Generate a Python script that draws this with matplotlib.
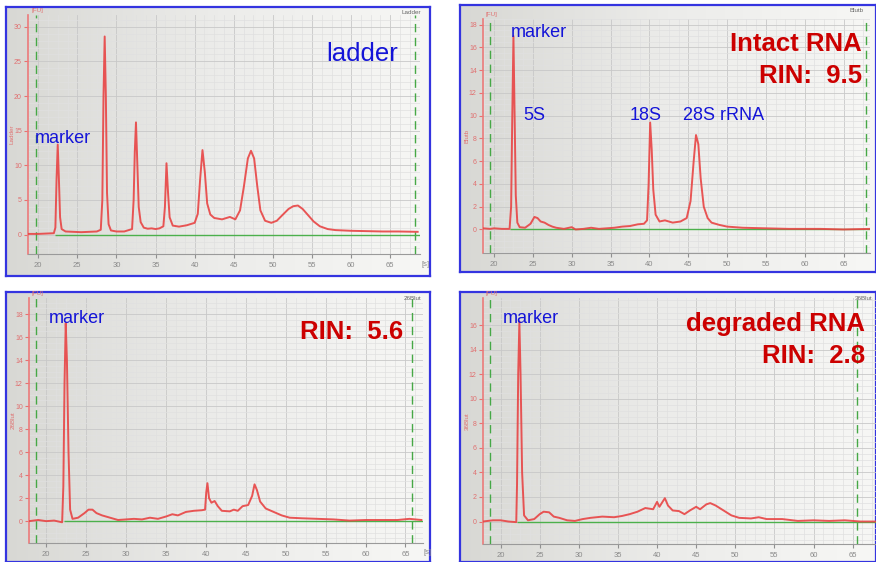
import matplotlib
matplotlib.use("Agg")
import matplotlib.pyplot as plt
import numpy as np
from matplotlib.ticker import MultipleLocator, AutoMinorLocator
from matplotlib.colors import LinearSegmentedColormap

plt.rcParams['font.family'] = ['Liberation Sans', 'DejaVu Sans']

W, H = 876, 562

# ---- traces (time [s], fluorescence [FU]) ----
ladder_t = [18.7, 20, 21, 22.0, 22.2, 22.35, 22.5, 22.65, 22.8, 23.0, 23.5, 24.5, 25.5, 26.5,
            27.5, 28.0, 28.2, 28.35, 28.5, 28.65, 28.8, 29.0, 29.3, 30, 31, 32.0, 32.2, 32.35,
            32.5, 32.65, 32.85, 33.1, 33.5, 34.0, 34.5, 35.0, 35.5, 36.0, 36.2, 36.4, 36.6, 36.8,
            37.2, 38, 39, 40.0, 40.4, 40.7, 41.0, 41.3, 41.6, 42.0, 42.5, 43.5, 44.5, 45.2, 45.8,
            46.3, 46.8, 47.2, 47.6, 48.0, 48.4, 49.0, 49.8, 50.5, 51.2, 52.0, 52.6, 53.2, 53.8,
            54.5, 55.2, 56.0, 57.0, 58.0, 60.0, 62.0, 64.0, 66.0, 68.5]
ladder_fu = [0.1, 0.1, 0.15, 0.2, 1.0, 8, 13.0, 8, 2.5, 0.8, 0.45, 0.4, 0.35, 0.4,
             0.45, 0.7, 5, 20, 28.6, 20, 6, 1.5, 0.6, 0.45, 0.45, 0.8, 5, 12,
             16.2, 11, 4, 1.8, 1.0, 0.85, 0.9, 0.8, 0.9, 1.2, 4, 10.3, 6, 2.5,
             1.3, 1.15, 1.35, 1.7, 3, 8, 12.2, 9, 4.5, 2.9, 2.4, 2.2, 2.55, 2.2, 3.5,
             7, 11, 12.1, 11, 7, 3.5, 2.0, 1.7, 2.0, 2.8, 3.7, 4.1, 4.2, 3.7,
             2.8, 1.9, 1.2, 0.8, 0.65, 0.55, 0.5, 0.45, 0.45, 0.4]

intact_t = [18.6, 19.5, 20, 21, 22.0, 22.2, 22.35, 22.5, 22.65, 22.8, 23.0, 23.3, 24.0, 24.7,
            25.2, 25.6, 26.0, 26.5, 27.0, 27.5, 28.0, 29.0, 30.0, 30.5, 31.5, 32.5, 33.5, 34.5,
            35.5, 36.5, 37.5, 38.5, 39.3, 39.7, 39.9, 40.1, 40.3, 40.5, 40.8, 41.3, 42.0, 43.0,
            44.0, 44.8, 45.3, 45.7, 46.0, 46.3, 46.6, 47.0, 47.5, 48.0, 49.0, 50.0, 52.0, 55.0,
            58.0, 62.0, 65.0, 68.4]
intact_fu = [0.1, 0.05, 0.1, 0.05, 0.05, 2, 10, 17.0, 10, 3, 0.6, 0.2, 0.15, 0.5,
             1.1, 1.0, 0.7, 0.6, 0.4, 0.25, 0.15, 0.05, 0.2, 0.0, 0.05, 0.15, 0.05, 0.1,
             0.15, 0.25, 0.3, 0.45, 0.5, 0.8, 4, 9.4, 7, 3.5, 1.3, 0.7, 0.8, 0.6,
             0.7, 1.0, 2.5, 6, 8.3, 7.5, 4.5, 2.0, 1.0, 0.6, 0.4, 0.25, 0.15, 0.1,
             0.05, 0.05, 0.0, 0.05]

rin56_t = [17.85, 19, 20, 21, 22.0, 22.15, 22.3, 22.45, 22.6, 22.8, 23.0, 23.3, 24.0, 24.8,
           25.3, 25.8, 26.3, 27.0, 27.5, 28.0, 29.0, 30.0, 31.0, 32.0, 33.0, 34.0, 35.0, 35.8,
           36.5, 37.5, 38.5, 39.5, 39.9, 40.05, 40.2, 40.4, 40.7, 41.1, 41.5, 42.0, 43.0, 43.5,
           44.0, 44.6, 45.3, 45.8, 46.1, 46.4, 46.8, 47.5, 48.5, 49.5, 50.5, 52.0, 54.0, 56.0,
           58.0, 60.0, 62.0, 64.0, 65.5, 67.0]
rin56_fu = [0.0, 0.1, 0.0, 0.05, -0.1, 3, 12, 17.2, 14, 6, 1.0, 0.2, 0.3, 0.7,
            1.0, 1.0, 0.7, 0.5, 0.4, 0.3, 0.1, 0.15, 0.2, 0.15, 0.3, 0.2, 0.4, 0.6,
            0.5, 0.8, 0.9, 0.95, 1.0, 2.5, 3.3, 2.0, 1.6, 1.75, 1.3, 0.9, 0.85, 1.0,
            0.9, 1.3, 1.4, 2.2, 3.2, 2.7, 1.7, 1.1, 0.8, 0.5, 0.3, 0.25, 0.2, 0.15,
            0.05, 0.1, 0.1, 0.1, 0.2, 0.1]

rin28_t = [17.75, 19.0, 20.0, 21.0, 22.0, 22.1, 22.25, 22.4, 22.55, 22.75, 23.0, 23.5, 24.3, 25.0,
           25.5, 26.2, 26.8, 27.5, 28.5, 29.5, 30.5, 31.5, 33.0, 34.5, 35.5, 36.5, 37.5, 38.5,
           39.5, 40.0, 40.3, 40.6, 41.0, 41.4, 42.0, 42.8, 43.5, 44.2, 45.0, 45.5, 46.3, 46.8,
           47.5, 48.5, 49.5, 50.5, 52.0, 53.0, 54.0, 56.0, 58.0, 60.0, 62.0, 64.0, 66.0, 68.0]
rin28_fu = [0.0, 0.1, 0.1, 0.0, -0.05, 3, 12, 16.3, 12, 4, 0.5, 0.1, 0.2, 0.6,
            0.8, 0.75, 0.4, 0.3, 0.1, 0.05, 0.2, 0.3, 0.4, 0.35, 0.45, 0.6, 0.8, 1.1,
            1.0, 1.6, 1.2, 1.5, 1.9, 1.3, 0.9, 0.85, 0.6, 0.9, 1.2, 1.0, 1.4, 1.5,
            1.3, 0.9, 0.5, 0.3, 0.25, 0.35, 0.2, 0.2, 0.05, 0.1, 0.05, 0.1, 0.0, 0.0]

x_ticks = [20, 25, 30, 35, 40, 45, 50, 55, 60, 65]

RED = '#e84444'
BLUE = '#1414d8'
DARKRED = '#cc0000'


def fig_rect(l, t, r, b):
    return [l / W, (H - b) / H, (r - l) / W, (b - t) / H]


def ftext(x, y, s, **kw):
    fig.text(x / W, 1 - y / H, s, **kw)


fig = plt.figure(figsize=(W / 100, H / 100), dpi=100, facecolor='white')

grad = np.linspace(0, 1, 256).reshape(1, -1)
bg_cmap = LinearSegmentedColormap.from_list('bg', ['#d8d8d4', '#ececea', '#f7f7f5'])


def panel(frame, axbox, t, fu, xlim, ylim, ymaj, yminor, ymax_tick, vlines, base_start,
          corner, ylab, show_s):
    # frame with gradient background
    bg = fig.add_axes(fig_rect(*frame))
    bg.imshow(grad, aspect='auto', cmap=bg_cmap, extent=[0, 1, 0, 1])
    bg.set_xticks([])
    bg.set_yticks([])
    for sp in bg.spines.values():
        sp.set_color('#3434e0')
        sp.set_linewidth(1.6)

    ax = fig.add_axes(fig_rect(*axbox))
    ax.set_facecolor('none')
    ax.set_xlim(*xlim)
    ax.set_ylim(*ylim)
    ax.set_xticks(x_ticks)
    ax.xaxis.set_minor_locator(AutoMinorLocator(4))
    ax.set_yticks(np.arange(0, ymax_tick + 0.1, ymaj))
    ax.yaxis.set_minor_locator(MultipleLocator(yminor))
    ax.grid(which='major', color='#c8c8c8', lw=0.6)
    ax.grid(which='minor', color='#e0e0e0', lw=0.5)
    ax.set_axisbelow(True)
    ax.tick_params(axis='y', which='major', length=3, color='#e87070', labelsize=5,
                   labelcolor='#e07070', pad=1.5)
    ax.tick_params(axis='x', which='major', length=3, color='#909090', labelsize=5.5,
                   labelcolor='#8a8a8a', pad=3)
    ax.tick_params(which='minor', length=0)
    for s in ('top', 'right'):
        ax.spines[s].set_visible(False)
    ax.spines['left'].set_color('#ec7a7a')
    ax.spines['left'].set_linewidth(1.2)
    ax.spines['bottom'].set_color('#9a9a9a')

    for v in vlines:
        ax.axvline(v, color='#46a846', ls=(0, (6, 4)), lw=1.0, zorder=3)
    ax.hlines(0, base_start, xlim[1], color='#4cb04c', lw=1.0, zorder=3)
    ax.plot(t, fu, color=RED, lw=1.4, alpha=0.9, zorder=4)

    # small decorations
    l, tp, r, b = axbox
    ftext(l + 3, tp - 2, '[FU]', fontsize=4.5, color='#e07070', va='bottom')
    ftext(l - 16, (tp + b) / 2, ylab, fontsize=4.5, color='#e07070', rotation=90,
          va='center', ha='center')
    ftext(corner[0], corner[1], ylab, fontsize=4.5, color='#666666', ha='right', va='center')
    if show_s:
        ftext(r + 1, b + 10, '[s]', fontsize=5.5, color='#8a8a8a', va='center')
    return ax


panel((6, 7, 430, 276), (28, 15, 420, 254), ladder_t, ladder_fu,
      (18.7, 68.8), (-2.8, 31.7), 5, 1, 30, [19.7, 68.2], 22.2, (421, 12), 'Ladder', True)
panel((460, 5, 876, 272), (483, 19, 870, 253), intact_t, intact_fu,
      (18.58, 68.4), (-2.07, 18.5), 2, 0.5, 18, [19.5, 67.9], 22.1, (864, 10), 'Blutb', False)
panel((6, 292, 430, 562), (29, 298, 423, 543), rin56_t, rin56_fu,
      (17.85, 67.2), (-1.9, 19.4), 2, 0.5, 18, [18.7, 65.8], 22.2, (421, 298), '26Blut', True)
panel((460, 292, 876, 562), (483, 298, 880, 544), rin28_t, rin28_fu,
      (17.75, 68.5), (-1.83, 18.2), 2, 0.5, 16, [18.7, 65.6], 22.1, (872, 298), '36Blut', False)

# annotations
ftext(326, 61, 'ladder', fontsize=18.5, color=BLUE, va='baseline')
ftext(35, 143, 'marker', fontsize=13, color=BLUE, va='baseline')

ftext(511, 37, 'marker', fontsize=13, color=BLUE, va='baseline')
ftext(523, 120, '5S', fontsize=13, color=BLUE, va='baseline')
ftext(630, 120, '18S', fontsize=13, color=BLUE, va='baseline')
ftext(683, 120, '28S rRNA', fontsize=13, color=BLUE, va='baseline')
ftext(862, 51, 'Intact RNA', fontsize=18.5, color=DARKRED, weight='bold', ha='right', va='baseline')
ftext(862, 83, 'RIN:  9.5', fontsize=18.5, color=DARKRED, weight='bold', ha='right', va='baseline')

ftext(49, 323, 'marker', fontsize=13, color=BLUE, va='baseline')
ftext(403, 339, 'RIN:  5.6', fontsize=18.5, color=DARKRED, weight='bold', ha='right', va='baseline')

ftext(503, 323, 'marker', fontsize=13, color=BLUE, va='baseline')
ftext(865, 331, 'degraded RNA', fontsize=18.5, color=DARKRED, weight='bold', ha='right', va='baseline')
ftext(865, 363, 'RIN:  2.8', fontsize=18.5, color=DARKRED, weight='bold', ha='right', va='baseline')

fig.savefig('out.png', dpi=100)
